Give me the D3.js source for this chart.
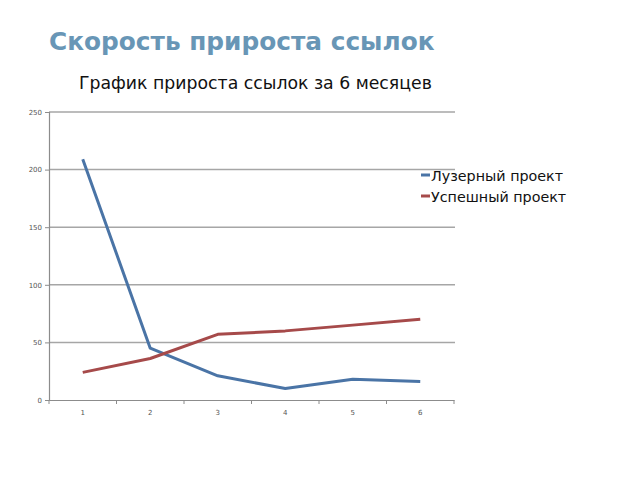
<!DOCTYPE html>
<html><head><meta charset="utf-8">
<script src="https://cdn.jsdelivr.net/npm/d3@7"></script>
<style>body{margin:0;background:#fff}</style>
</head><body>
<svg id="c" width="640" height="480"></svg>
<script>
const categories = ["1","2","3","4","5","6"];
const loserValues = [209, 45, 21, 10, 18, 16];
const successValues = [24, 36, 57, 60, 65, 70];
const seriesNames = ["Лузерный проект", "Успешный проект"];
const yTicks = [0, 50, 100, 150, 200, 250];
const colors = ["#4a74a6", "#a64a4a"];

const svg = d3.select("#c");
const L = 49, R = 454, T = 112, B = 400;
const x = d3.scaleBand().domain(categories).range([L, R]);
const y = d3.scaleLinear().domain([0, 250]).range([B, T]);

svg.append("text").attr("x", 49).attr("y", 50)
  .attr("font-family", "DejaVu Sans, Verdana, sans-serif").attr("font-weight", "bold")
  .attr("font-size", 24.8).attr("fill", "#6896b6").text("Скорость прироста ссылок");
svg.append("text").attr("x", 79).attr("y", 89)
  .attr("font-family", "DejaVu Sans, Verdana, sans-serif")
  .attr("font-size", 17.3).attr("fill", "#111").text("График прироста ссылок за 6 месяцев");

// gridlines
svg.append("g").selectAll("line").data(yTicks.filter(d => d > 0)).join("line")
  .attr("x1", L).attr("x2", R + 1).attr("y1", d => y(d)).attr("y2", d => y(d))
  .attr("stroke", "#a6a6a6").attr("stroke-width", 1.5);

// y axis
const ya = svg.append("g").attr("transform", `translate(${L},0)`)
  .call(d3.axisLeft(y).tickValues(yTicks).tickSize(4).tickPadding(3));
ya.select(".domain").attr("stroke", "#8c8c8c").attr("stroke-width", 1.2);
ya.selectAll(".tick line").attr("stroke", "#8c8c8c");
ya.selectAll("text").attr("font-family", "DejaVu Sans, Verdana, sans-serif").attr("font-size", 7).attr("fill", "#555");

// x axis
const xa = svg.append("g").attr("transform", `translate(0,${B})`)
  .call(d3.axisBottom(x).tickSize(0).tickPadding(10));
xa.select(".domain").attr("stroke", "#8c8c8c").attr("stroke-width", 1.2);
xa.selectAll("text").attr("font-family", "DejaVu Sans, Verdana, sans-serif").attr("font-size", 7).attr("fill", "#555");
xa.selectAll(".sep").data(d3.range(categories.length + 1)).join("line").attr("class", "sep")
  .attr("x1", i => L + i * x.step()).attr("x2", i => L + i * x.step())
  .attr("y1", 0).attr("y2", 4).attr("stroke", "#8c8c8c");

const line = d3.line().x((d, i) => x(categories[i]) + x.bandwidth() / 2).y(d => y(d));
[loserValues, successValues].forEach((vals, k) => {
  svg.append("path").datum(vals).attr("d", line).attr("fill", "none")
    .attr("stroke", colors[k]).attr("stroke-width", 3).attr("stroke-linejoin", "round");
});

// legend
const lg = svg.append("g");
seriesNames.forEach((n, k) => {
  const yy = 175 + k * 21;
  lg.append("line").attr("x1", 421).attr("x2", 430).attr("y1", yy).attr("y2", yy)
    .attr("stroke", colors[k]).attr("stroke-width", 3);
  lg.append("text").attr("x", 431).attr("y", yy + 5.5)
    .attr("font-family", "DejaVu Sans, Verdana, sans-serif").attr("font-size", 14.3).attr("fill", "#111").text(n);
});
</script>
</body></html>
